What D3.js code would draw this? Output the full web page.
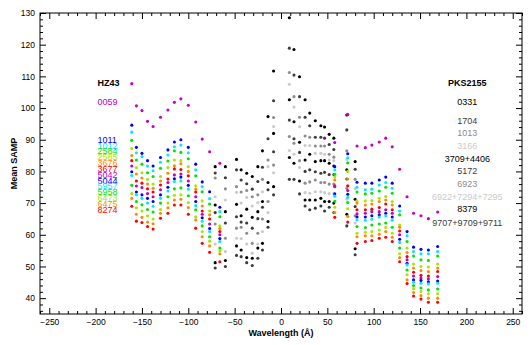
<!DOCTYPE html>
<html>
<head>
<meta charset="utf-8">
<script src="https://cdn.jsdelivr.net/npm/d3@7"></script>
<style>
  html, body { margin: 0; padding: 0; background: #fff; }
  svg text { font-family: "Liberation Sans", "DejaVu Sans", sans-serif; }
</style>
</head>
<body>
<svg id="chart" width="532" height="345"></svg>
<script>
// Wavelength offsets (Å) of the HZ43 samples, blue side then red side
const hzWave = [-161, -156, -150, -144, -138, -130, -122, -115, -108, -100, -92, -85, -77, -66,
                58, 72, 82, 91, 98, 106, 113, 120, 128, 136, 143, 151, 159, 169];

const hzNames = ["0059", "1011", "1012", "2584", "2585", "3676", "3677",
                 "5042", "5044", "5957", "5958", "6473", "6475", "8274"];

const hz0059 = [107.7, 100.7, 99.2, 95.8, 94.2, 97.1, 99.4, 101.8, 102.9, 100.9, 95.6, 90.2, 86.2, 82.6,
                89.1, 98.0, 88.0, 87.5, 88.3, 89.3, 90.5, 87.8, 80.7, 72.0, 66.8, 66.0, 65.1, 67.2];
const hz1011 = [94.6, 87.6, 85.7, 83.4, 81.7, 84.4, 86.8, 89.3, 90.0, 87.6, 82.3, 76.7, 73.6, 68.7,
                81.5, 85.6, 76.6, 76.3, 76.3, 77.3, 78.2, 76.3, 69.1, 61.0, 56.1, 55.4, 55.2, 56.3];
const hz1012 = [92.4, 85.9, 84.7, 81.7, 80.2, 82.9, 85.2, 87.8, 88.3, 85.9, 80.5, 75.2, 71.4, 67.3,
                80.5, 84.3, 75.0, 74.2, 74.4, 75.7, 76.5, 74.7, 67.5, 59.7, 54.7, 54.0, 54.0, 54.7];
const hz2584 = [89.8, 83.6, 82.3, 79.6, 78.4, 81.0, 83.3, 86.5, 86.0, 84.0, 78.6, 73.6, 69.7, 65.7,
                79.1, 82.7, 73.5, 72.9, 73.1, 73.8, 75.0, 73.1, 66.3, 57.9, 53.3, 52.1, 51.9, 53.3];
const hz2585 = [87.2, 81.2, 79.6, 77.5, 76.0, 78.4, 81.2, 83.6, 83.4, 81.5, 75.5, 70.7, 67.5, 62.8,
                78.2, 80.0, 70.7, 70.7, 70.8, 71.5, 72.1, 70.5, 63.1, 55.8, 50.8, 50.0, 49.8, 50.8];
const hz3676 = [85.0, 79.2, 77.9, 76.0, 74.7, 77.0, 79.4, 81.8, 82.4, 80.0, 74.4, 69.1, 66.3, 62.0,
                77.3, 77.6, 70.0, 69.4, 69.7, 70.5, 71.0, 69.4, 62.4, 54.4, 49.5, 48.7, 48.4, 49.5];
const hz3677 = [83.4, 77.0, 76.3, 74.5, 73.5, 75.7, 77.6, 80.8, 80.6, 78.6, 73.5, 67.5, 65.0, 61.0,
                75.5, 75.5, 67.9, 67.9, 68.1, 68.6, 69.7, 67.9, 61.2, 53.1, 48.2, 47.2, 47.0, 48.4];
const hz5042 = [81.7, 75.4, 74.9, 73.0, 72.0, 74.2, 76.5, 78.9, 79.2, 77.0, 72.0, 66.5, 63.4, 60.0,
                75.2, 74.0, 66.6, 66.8, 67.3, 67.3, 67.9, 66.8, 60.0, 52.1, 47.0, 46.4, 46.1, 46.8];
const hz5044 = [79.9, 73.5, 72.6, 71.5, 70.5, 72.6, 75.0, 77.7, 78.2, 75.6, 70.5, 65.4, 62.0, 58.8,
                72.9, 72.8, 65.6, 65.6, 66.0, 66.3, 66.8, 65.6, 58.6, 51.0, 45.8, 45.6, 45.2, 45.4];
const hz5957 = [78.7, 72.6, 71.5, 70.0, 69.0, 71.5, 73.8, 76.8, 77.0, 74.4, 69.2, 64.3, 61.0, 57.9,
                72.2, 71.8, 64.7, 64.6, 64.9, 65.6, 66.0, 64.6, 57.6, 50.5, 45.0, 44.7, 44.5, 44.7];
const hz5958 = [75.6, 70.5, 69.5, 68.0, 67.2, 70.0, 72.0, 74.5, 74.8, 72.3, 67.9, 62.8, 59.4, 55.8,
                70.6, 70.2, 62.6, 62.3, 63.1, 63.4, 63.7, 62.4, 55.8, 48.9, 44.0, 43.2, 42.6, 42.9];
const hz6473 = [73.0, 68.5, 67.5, 66.0, 65.0, 68.0, 70.0, 72.5, 72.6, 70.2, 65.7, 61.0, 58.0, 55.0,
                68.7, 68.2, 60.5, 60.8, 61.0, 61.5, 62.3, 60.5, 54.0, 47.4, 43.0, 42.1, 41.4, 41.4];
const hz6475 = [71.5, 66.5, 65.5, 64.0, 63.5, 66.8, 68.5, 71.0, 71.2, 68.6, 64.7, 59.4, 56.5, 54.0,
                67.0, 65.8, 59.4, 59.7, 59.7, 60.2, 61.0, 59.2, 52.8, 45.8, 41.8, 40.8, 40.0, 40.0];
const hz8274 = [69.0, 64.3, 63.9, 62.6, 61.8, 65.2, 66.8, 69.4, 69.4, 66.5, 62.1, 57.3, 54.5, 51.5,
                65.5, 64.0, 57.3, 57.9, 58.2, 58.9, 59.2, 57.9, 51.5, 44.6, 40.7, 39.7, 38.7, 38.7];

// Wavelength offsets (Å) of the PKS2155 samples
const pksWave = [-71, -60, -48, -43, -37, -31, -25, -20, -14, -8, 9, 14, 20, 26, 31, 37, 43, 47, 52, 57, 71, 80];

const pksNames = ["0331", "1704", "1013", "3166", "3709+4406", "5172", "6923",
                  "6922+7294+7295", "8379", "9707+9709+9711"];

const pks0331 = [81.5, 81.5, 83.8, 80.5, 79.4, 78.4, 81.5, 86.5, 97.3, 111.7, 128.5, 118.5, 109.9, 102.6, 98.4, 96.0, 94.4, 94.0, 91.7, 90.5, 97.8, 83.1];
const pks1704 = [79.5, 78.0, 80.5, 77.3, 76.1, 74.4, 76.8, 81.3, 90.3, 102.3, 118.9, 110.4, 103.6, 97.1, 94.4, 90.8, 90.8, 90.5, 88.5, 86.9, 93.1, 80.7];
const pks1013 = [77.9, 74.5, 75.2, 73.5, 74.0, 72.0, 72.6, 77.5, 83.6, 97.0, 111.2, 103.6, 97.1, 91.2, 90.8, 88.0, 88.0, 88.0, 85.4, 84.5, 86.5, 77.5];
const pks3166 = [72.0, 71.0, 73.4, 70.0, 71.8, 69.1, 70.2, 73.6, 81.5, 94.2, 107.5, 100.3, 94.1, 88.2, 88.2, 85.7, 85.7, 85.4, 83.6, 83.4, 83.8, 74.5];
const pks3709 = [69.4, 67.3, 69.6, 66.0, 68.1, 65.5, 67.3, 70.5, 76.5, 92.0, 102.6, 95.7, 89.2, 83.6, 85.4, 83.1, 83.4, 83.4, 82.6, 81.7, 80.5, 71.2];
const pks5172 = [67.0, 63.7, 65.7, 64.0, 63.7, 62.1, 65.1, 68.7, 74.2, 86.2, 96.2, 90.3, 86.0, 80.0, 80.5, 79.9, 79.4, 79.7, 79.0, 79.0, 77.6, 68.9];
const pks6923 = [63.4, 58.9, 62.1, 62.4, 60.5, 57.3, 60.5, 65.0, 70.5, 82.0, 91.0, 88.9, 83.4, 76.3, 76.7, 77.3, 76.5, 76.5, 76.0, 76.0, 74.7, 66.0];
const pks6922 = [57.1, 54.7, 58.9, 58.8, 57.1, 54.2, 57.1, 61.0, 67.0, 79.6, 86.6, 85.4, 81.2, 73.3, 73.1, 73.6, 73.6, 73.3, 73.0, 73.0, 71.2, 63.7];
const pks8379 = [51.2, 51.9, 56.5, 55.2, 52.8, 52.6, 55.8, 57.3, 64.2, 75.2, 84.4, 82.6, 77.0, 71.0, 71.0, 71.0, 71.5, 70.5, 70.5, 70.0, 66.5, 55.6];
const pks9707 = [49.5, 50.0, 53.5, 53.1, 51.2, 50.3, 52.6, 55.2, 62.4, 72.6, 77.5, 77.5, 72.9, 69.1, 67.9, 68.4, 69.1, 67.5, 68.7, 67.0, 62.8, 53.7];

// Legend levels (Mean SAMP units) for the two name columns
const hzLabelLevels  = [101.9, 90.0, 88.1, 86.5, 84.6, 82.7, 80.9, 79.0, 77.1, 75.3, 73.4, 71.6, 69.8, 67.9];
const pksLabelLevels = [101.8, 95.9, 92.2, 88.0, 83.9, 80.1, 76.1, 72.0, 68.2, 63.9];

// Axis ticks
const xTicks = [-250, -200, -150, -100, -50, 0, 50, 100, 150, 200, 250];
const yTicks = [40, 50, 60, 70, 80, 90, 100, 110, 120, 130];

const hzSeries  = [hz0059, hz1011, hz1012, hz2584, hz2585, hz3676, hz3677,
                   hz5042, hz5044, hz5957, hz5958, hz6473, hz6475, hz8274];
const pksSeries = [pks0331, pks1704, pks1013, pks3166, pks3709, pks5172, pks6923,
                   pks6922, pks8379, pks9707];

const hzPalette  = ["#c400c4", "#0000ff", "#00e8ff", "#00e400", "#a8e600", "#ff8a00", "#ff0000"];
const pksPalette = ["#000000", "#3c3c3c", "#8c8c8c", "#cacaca"];

const W = 532, H = 345;
const m = { left: 40, right: 10, top: 13, bottom: 31 };
const svg = d3.select("#chart");

const x = d3.scaleLinear().domain([-260, 260]).range([m.left, W - m.right]);
const y = d3.scaleLinear().domain([35, 130]).range([H - m.bottom, m.top]);

// Points: PKS2155 underneath, HZ43 on top
const r = 1.55;
pksSeries.forEach((vals, i) => {
  svg.append("g").selectAll("circle").data(vals).join("circle")
    .attr("cx", (d, j) => x(pksWave[j]))
    .attr("cy", d => y(d))
    .attr("r", r)
    .attr("fill", pksPalette[i % 4]);
});
hzSeries.forEach((vals, i) => {
  svg.append("g").selectAll("circle").data(vals).join("circle")
    .attr("cx", (d, j) => x(hzWave[j]))
    .attr("cy", d => y(d))
    .attr("r", r)
    .attr("fill", hzPalette[i % 7]);
});

// Frame
svg.append("rect")
  .attr("x", m.left).attr("y", m.top)
  .attr("width", W - m.left - m.right).attr("height", H - m.top - m.bottom)
  .attr("fill", "none").attr("stroke", "#000").attr("stroke-width", 1);

const xMinor = d3.range(-260, 261, 10).filter(v => v % 50 !== 0);
const yMinor = d3.range(36, 130, 2).filter(v => v % 10 !== 0);

function styleAxis(g) {
  g.select(".domain").remove();
  g.selectAll("line").attr("stroke", "#000");
  g.selectAll("text").attr("fill", "#000").attr("font-size", 8.5);
}

// Bottom
svg.append("g").attr("transform", `translate(0,${H - m.bottom})`)
  .call(d3.axisBottom(x).tickValues(xTicks).tickSize(-6).tickPadding(5).tickFormat(d3.format("d")))
  .call(styleAxis);
svg.append("g").attr("transform", `translate(0,${H - m.bottom})`)
  .call(d3.axisBottom(x).tickValues(xMinor).tickSize(-3).tickFormat(""))
  .call(styleAxis);
// Top
svg.append("g").attr("transform", `translate(0,${m.top})`)
  .call(d3.axisTop(x).tickValues(xTicks).tickSize(-6).tickFormat(""))
  .call(styleAxis);
svg.append("g").attr("transform", `translate(0,${m.top})`)
  .call(d3.axisTop(x).tickValues(xMinor).tickSize(-3).tickFormat(""))
  .call(styleAxis);
// Left
svg.append("g").attr("transform", `translate(${m.left},0)`)
  .call(d3.axisLeft(y).tickValues(yTicks).tickSize(-6).tickPadding(5).tickFormat(d3.format("d")))
  .call(styleAxis);
svg.append("g").attr("transform", `translate(${m.left},0)`)
  .call(d3.axisLeft(y).tickValues(yMinor).tickSize(-3).tickFormat(""))
  .call(styleAxis);
// Right
svg.append("g").attr("transform", `translate(${W - m.right},0)`)
  .call(d3.axisRight(y).tickValues(yTicks).tickSize(-6).tickFormat(""))
  .call(styleAxis);
svg.append("g").attr("transform", `translate(${W - m.right},0)`)
  .call(d3.axisRight(y).tickValues(yMinor).tickSize(-3).tickFormat(""))
  .call(styleAxis);

// Axis titles
svg.append("text")
  .attr("x", x(0)).attr("y", 336)
  .attr("text-anchor", "middle").attr("font-size", 9).attr("font-weight", "bold")
  .text("Wavelength (Å)");
svg.append("text")
  .attr("transform", `translate(17,${y(82.5)}) rotate(-90)`)
  .attr("text-anchor", "middle").attr("font-size", 9).attr("font-weight", "bold")
  .text("Mean SAMP");

// Name columns
svg.append("text")
  .attr("x", x(-198)).attr("y", y(108)).attr("dy", "0.35em")
  .attr("font-size", 9).attr("font-weight", "bold").text("HZ43");
svg.append("g").selectAll("text").data(hzNames).join("text")
  .attr("x", x(-198)).attr("y", (d, i) => y(hzLabelLevels[i])).attr("dy", "0.35em")
  .attr("font-size", 9).attr("fill", (d, i) => hzPalette[i % 7])
  .text(d => d);

svg.append("text")
  .attr("x", x(201)).attr("y", y(108)).attr("dy", "0.35em")
  .attr("text-anchor", "middle")
  .attr("font-size", 9).attr("font-weight", "bold").text("PKS2155");
svg.append("g").selectAll("text").data(pksNames).join("text")
  .attr("x", x(201)).attr("y", (d, i) => y(pksLabelLevels[i])).attr("dy", "0.35em")
  .attr("text-anchor", "middle")
  .attr("font-size", 9).attr("fill", (d, i) => pksPalette[i % 4])
  .text(d => d);
</script>
</body>
</html>
